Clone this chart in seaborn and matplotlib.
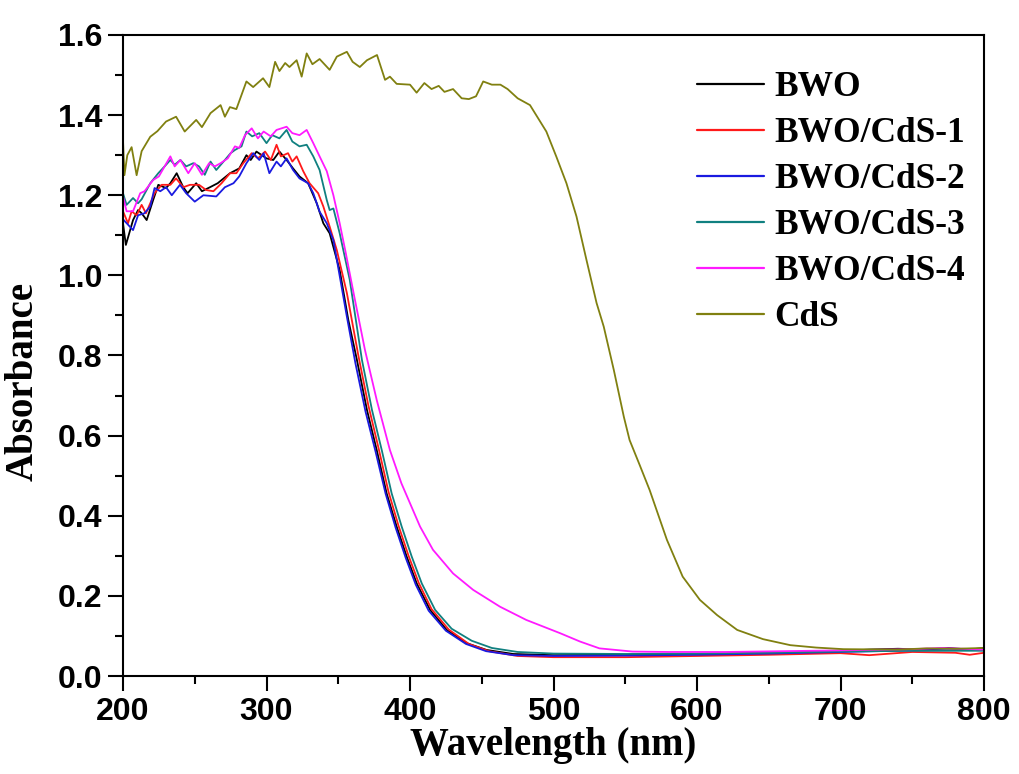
import numpy as np
import pandas as pd
import matplotlib
matplotlib.use("Agg")
import matplotlib.pyplot as plt
from matplotlib.ticker import MultipleLocator
import seaborn as sns

# ---- data ----
bwo_wl = [200, 202, 207, 210.5, 213, 216.5, 221, 224.6, 230, 233, 237.4, 242, 245, 251, 255, 260.6, 266,
          274.6, 281, 286, 289, 293, 300, 304.7, 309, 314, 318.5, 323, 329, 335, 339.6, 344, 351, 357, 363,
          370, 376.8, 383.7, 390.7, 397.7, 404.7, 414, 425.6, 439.5, 453.4, 472, 500, 550, 600, 650, 700,
          720, 740, 760, 775, 790, 800]
bwo_abs = [1.13, 1.076, 1.138, 1.163, 1.155, 1.138, 1.188, 1.226, 1.218, 1.23, 1.255, 1.22, 1.205, 1.23, 1.21,
           1.22, 1.23, 1.255, 1.267, 1.3, 1.288, 1.309, 1.292, 1.288, 1.309, 1.288, 1.267, 1.247, 1.23, 1.18,
           1.13, 1.105, 1.013, 0.889, 0.789, 0.664, 0.564, 0.456, 0.373, 0.298, 0.231, 0.165, 0.115, 0.082,
           0.065, 0.055, 0.052, 0.053, 0.055, 0.058, 0.062, 0.066, 0.068, 0.066, 0.07, 0.066, 0.07]

cds1_wl = [200, 203.5, 206, 209.5, 213, 216, 222, 227, 233, 237, 242, 246.7, 253, 258, 263, 268.7, 274.6, 279,
           283.8, 289.7, 294, 299, 303, 307, 310, 315, 318, 321, 325.6, 330, 336, 339.6, 344, 349, 356, 364,
           371, 378, 385, 392, 399, 406, 415, 427, 441, 455, 475, 500, 550, 600, 650, 700, 720, 750, 780, 790, 800]
cds1_abs = [1.16, 1.13, 1.16, 1.15, 1.176, 1.155, 1.205, 1.226, 1.226, 1.242, 1.22, 1.226, 1.226, 1.213, 1.21,
            1.23, 1.255, 1.255, 1.28, 1.305, 1.292, 1.309, 1.288, 1.326, 1.297, 1.305, 1.284, 1.297, 1.26, 1.23,
            1.205, 1.172, 1.122, 1.063, 0.956, 0.80, 0.675, 0.57, 0.46, 0.375, 0.30, 0.233, 0.167, 0.116, 0.08,
            0.062, 0.05, 0.047, 0.047, 0.05, 0.053, 0.057, 0.052, 0.06, 0.058, 0.053, 0.058]

cds2_wl = [200, 207, 210.5, 215, 219, 222, 226, 230, 234, 239.7, 244, 250, 256, 265, 271, 277, 281, 286, 290.8,
           295, 298, 302, 307, 310, 314, 318.5, 323, 329, 332.6, 337, 342, 346.6, 356, 362, 369, 376, 383, 390,
           397, 404, 413, 425, 439, 453, 472, 500, 550, 600, 650, 700, 750, 800]
cds2_abs = [1.14, 1.113, 1.15, 1.155, 1.172, 1.218, 1.21, 1.22, 1.2, 1.226, 1.205, 1.184, 1.2, 1.197, 1.22, 1.23,
            1.247, 1.28, 1.305, 1.288, 1.305, 1.255, 1.284, 1.272, 1.292, 1.263, 1.242, 1.23, 1.205, 1.159, 1.13,
            1.088, 0.897, 0.78, 0.66, 0.56, 0.455, 0.37, 0.295, 0.228, 0.163, 0.113, 0.08, 0.062, 0.052, 0.05,
            0.051, 0.053, 0.056, 0.06, 0.064, 0.065]

cds3_wl = [200, 202.5, 207, 210.5, 213, 219, 224.6, 229, 233, 236, 240, 244, 249, 253, 257, 261, 265, 271, 275,
           278, 282.6, 286, 290, 295, 300, 304, 309, 314, 318, 323, 328, 332.6, 337, 342, 344, 346.6, 351, 358,
           366.5, 373.5, 380.3, 387.2, 394.2, 401.2, 408.2, 417.5, 429, 443, 457, 475, 500, 550, 600, 650, 700,
           750, 800]
cds3_abs = [1.205, 1.176, 1.193, 1.18, 1.19, 1.23, 1.255, 1.272, 1.288, 1.276, 1.288, 1.272, 1.28, 1.272, 1.251,
            1.284, 1.263, 1.288, 1.305, 1.313, 1.322, 1.359, 1.347, 1.355, 1.33, 1.35, 1.342, 1.363, 1.334, 1.322,
            1.326, 1.297, 1.263, 1.188, 1.163, 1.167, 1.105, 0.989, 0.789, 0.664, 0.564, 0.456, 0.373, 0.298,
            0.231, 0.165, 0.118, 0.088, 0.07, 0.06, 0.056, 0.055, 0.056, 0.058, 0.061, 0.063, 0.063]

cds4_wl = [200, 202.5, 207, 212, 215, 221, 225, 229, 233, 236, 240, 245.5, 250, 255, 260, 264, 268, 273, 278,
           281, 285, 289.7, 294, 298, 303, 307, 314, 318, 323, 328, 332.6, 337, 342, 346.6, 351, 355, 361,
           368.6, 376.8, 386, 394, 407, 416, 430, 444, 462.7, 481, 504.5, 518.5, 532, 555, 580, 620, 660, 700,
           750, 770, 800]
cds4_abs = [1.197, 1.16, 1.16, 1.205, 1.21, 1.238, 1.247, 1.272, 1.297, 1.272, 1.288, 1.255, 1.28, 1.251, 1.28,
            1.272, 1.28, 1.292, 1.322, 1.318, 1.35, 1.367, 1.342, 1.359, 1.347, 1.363, 1.371, 1.355, 1.35, 1.363,
            1.33, 1.297, 1.26, 1.2, 1.13, 1.06, 0.95, 0.814, 0.689, 0.564, 0.481, 0.373, 0.315, 0.256,
            0.215, 0.173, 0.14, 0.107, 0.086, 0.069, 0.061, 0.06, 0.06, 0.062, 0.064, 0.067, 0.07, 0.066]

cds_wl = [200, 201, 203, 206, 209.5, 213, 219, 224, 230, 237, 243, 251, 255, 261, 268, 271, 274.5, 279, 286,
          290.7, 297.6, 302, 306, 309, 313, 316, 321, 324.5, 328, 332, 337, 344, 349, 356, 360, 365, 370, 377,
          382.6, 386, 390.7, 400, 404.6, 410, 415, 420, 424, 430, 436, 441, 446, 451, 457, 463, 468, 475,
          483.6, 495, 502, 509, 516, 523, 530, 535, 542, 549, 553, 560, 567, 579, 590, 602, 614, 628, 646,
          665, 683, 702, 740, 760, 780, 800]
cds_abs = [1.338, 1.25, 1.30, 1.32, 1.25, 1.31, 1.346, 1.36, 1.384, 1.396, 1.359, 1.388, 1.37, 1.405, 1.425,
           1.396, 1.42, 1.415, 1.484, 1.47, 1.492, 1.47, 1.533, 1.51, 1.53, 1.52, 1.537, 1.496, 1.554, 1.527,
           1.54, 1.513, 1.546, 1.558, 1.533, 1.52, 1.537, 1.55, 1.488, 1.496, 1.478, 1.476, 1.456, 1.48, 1.465,
           1.473, 1.458, 1.465, 1.442, 1.44, 1.447, 1.484, 1.476, 1.476, 1.465, 1.442, 1.425, 1.359, 1.296,
           1.23, 1.147, 1.038, 0.931, 0.872, 0.764, 0.647, 0.589, 0.527, 0.464, 0.34, 0.248, 0.19, 0.152,
           0.115, 0.092, 0.077, 0.071, 0.067, 0.066, 0.069, 0.068, 0.07]

labels = ["BWO", "BWO/CdS-1", "BWO/CdS-2", "BWO/CdS-3", "BWO/CdS-4", "CdS"]
colors = ["#000000", "#ff1a1a", "#1a1ae0", "#108080", "#ff1aff", "#808010"]

series = [(bwo_wl, bwo_abs), (cds1_wl, cds1_abs), (cds2_wl, cds2_abs),
          (cds3_wl, cds3_abs), (cds4_wl, cds4_abs), (cds_wl, cds_abs)]
frames = []
for name, (wl, ab) in zip(labels, series):
    frames.append(pd.DataFrame({"Wavelength": wl, "Absorbance": ab, "Sample": name}))
df = pd.concat(frames, ignore_index=True)

# ---- plot ----
sns.set_style("ticks")
plt.rcParams['axes.linewidth'] = 1.5
plt.rcParams['text.color'] = "black"
plt.rcParams['axes.labelcolor'] = "black"
plt.rcParams['xtick.color'] = "black"
plt.rcParams['ytick.color'] = "black"
plt.rcParams['axes.edgecolor'] = "black"

fig = plt.figure(figsize=(10.19, 7.74), dpi=100)
ax = fig.add_axes([0.1207, 0.1266, 0.845, 0.8282])

sns.lineplot(data=df, x="Wavelength", y="Absorbance", hue="Sample", palette=dict(zip(labels, colors)),
             hue_order=labels, estimator=None, sort=False, linewidth=1.3, ax=ax)

ax.set_xlim(200, 800)
ax.set_ylim(0, 1.6)
ax.xaxis.set_major_locator(MultipleLocator(100))
ax.xaxis.set_minor_locator(MultipleLocator(50))
ax.yaxis.set_major_locator(MultipleLocator(0.2))
ax.yaxis.set_minor_locator(MultipleLocator(0.1))
ax.tick_params(which="major", direction="out", length=11, width=1.5, pad=4)
ax.tick_params(which="minor", direction="out", length=6, width=1.5)
ax.tick_params(top=False, right=False)

ax.set_xticks(np.arange(200, 801, 100))
ax.set_yticks(np.round(np.arange(0, 1.61, 0.2), 1))
ax.set_yticklabels([f"{v:.1f}" for v in np.arange(0, 1.61, 0.2)])
for lab in ax.get_xticklabels() + ax.get_yticklabels():
    lab.set_fontfamily("Liberation Sans")
    lab.set_fontweight("bold")
    lab.set_fontsize(23)

ax.set_xlabel("Wavelength (nm)", fontfamily="Liberation Serif", fontweight="bold", fontsize=28, labelpad=0)
ax.set_ylabel("Absorbance", fontfamily="Liberation Serif", fontweight="bold", fontsize=28)
ax.yaxis.set_label_coords(-0.094, 0.46)

leg = ax.legend(loc="upper right", frameon=False, bbox_to_anchor=(1.003, 0.977),
                prop={"family": "Liberation Serif", "weight": "bold", "size": 25.5},
                handlelength=1.9, handletextpad=0.3, labelspacing=0.37, borderaxespad=0.2)
for h in leg.get_lines():
    h.set_linewidth(1.6)

fig.savefig("out.png", dpi=100)
